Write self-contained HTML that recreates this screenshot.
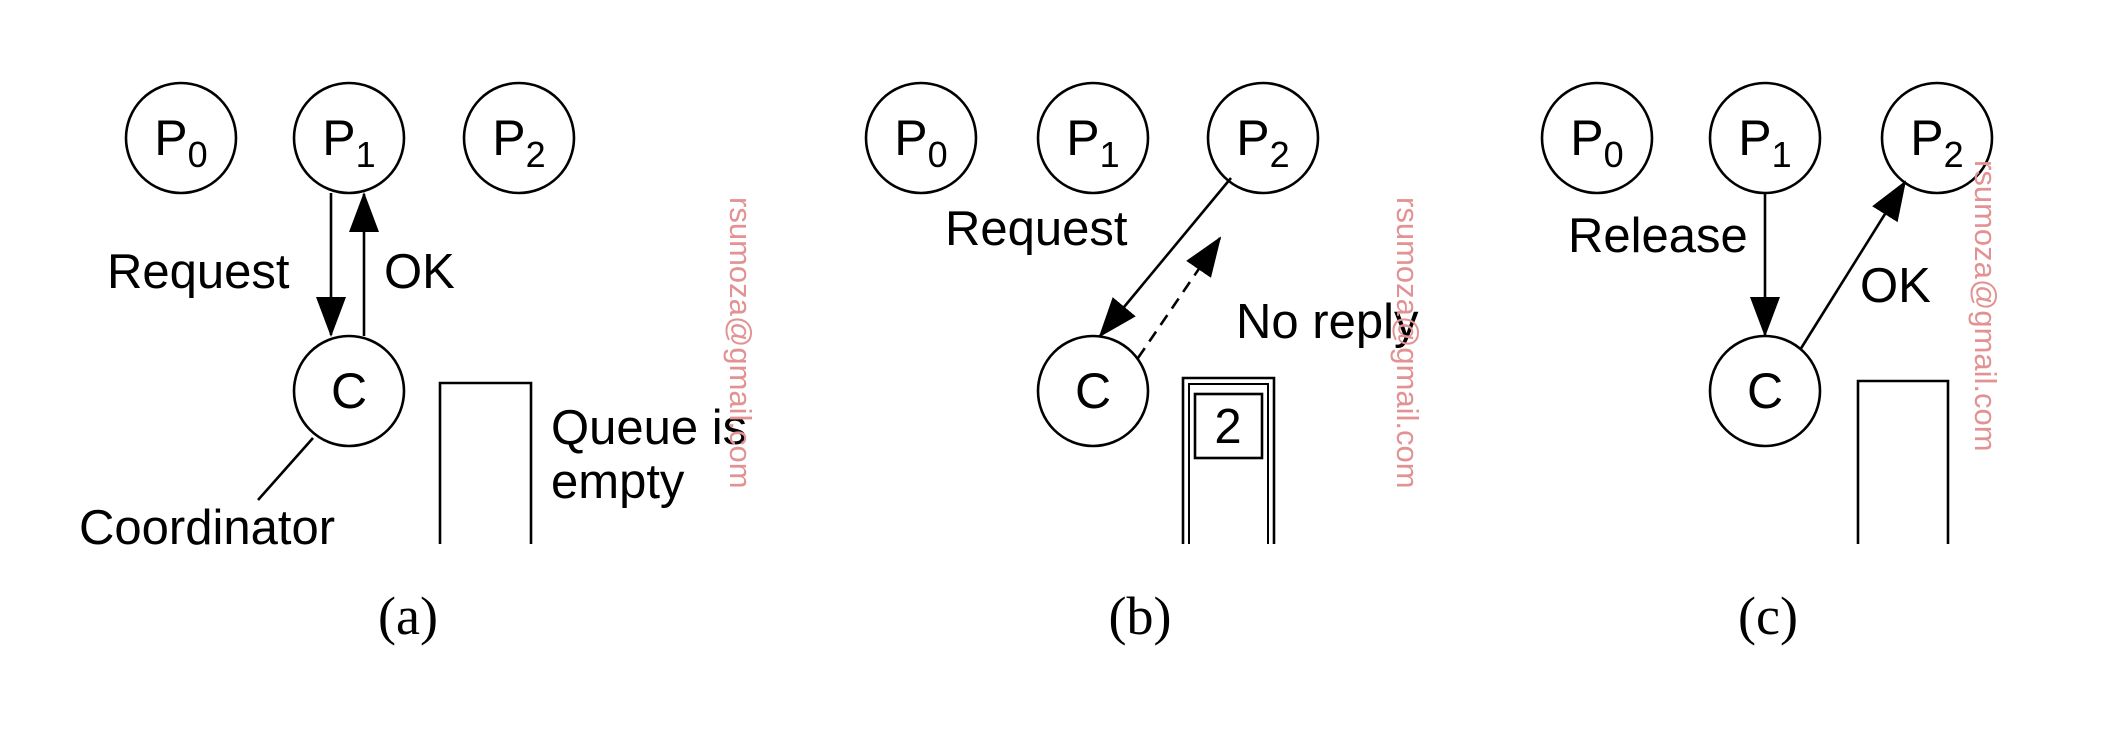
<!DOCTYPE html>
<html><head><meta charset="utf-8"><style>
html,body{margin:0;padding:0;background:#fff;}
svg{display:block;}
.t{font-family:"Liberation Sans",sans-serif;font-size:49px;fill:#000;}
.p{font-family:"Liberation Sans",sans-serif;font-size:50px;fill:#000;}
.lbl{font-family:"Liberation Serif",serif;font-size:54px;fill:#000;}
.wm{font-family:"Liberation Sans",sans-serif;font-size:31px;fill:#e29292;}
circle{fill:#fff;stroke:#000;stroke-width:2.6;}
.ln{stroke:#000;stroke-width:2.6;fill:none;}
</style></head><body>
<svg width="2124" height="734" viewBox="0 0 2124 734">
<defs>
<marker id="ah" viewBox="0 0 40 30" refX="38" refY="15" markerWidth="40" markerHeight="30" markerUnits="userSpaceOnUse" orient="auto">
<path d="M0,0 L40,15 L0,30 z" fill="#000"/></marker>
</defs>

<!-- Panel a -->
<g>
<g><circle cx="181" cy="138" r="55"/><text class="p" x="181" y="155" text-anchor="middle">P<tspan dy="12" font-size="36">0</tspan></text></g>
<g><circle cx="349" cy="138" r="55"/><text class="p" x="349" y="155" text-anchor="middle">P<tspan dy="12" font-size="36">1</tspan></text></g>
<g><circle cx="519" cy="138" r="55"/><text class="p" x="519" y="155" text-anchor="middle">P<tspan dy="12" font-size="36">2</tspan></text></g>
<g><circle cx="349" cy="391" r="55"/><text class="p" x="349" y="408" text-anchor="middle">C</text></g>
<line class="ln" x1="331" y1="193" x2="331" y2="335" marker-end="url(#ah)"/>
<line class="ln" x1="364" y1="336" x2="364" y2="194" marker-end="url(#ah)"/>
<text class="t" x="107" y="288">Request</text>
<text class="t" x="384" y="288">OK</text>
<line class="ln" x1="313" y1="438" x2="258" y2="500"/>
<text class="t" x="79" y="544">Coordinator</text>
<path class="ln" d="M440,544 L440,383 L531,383 L531,544"/>
<text class="t" x="551" y="444">Queue is</text>
<text class="t" x="551" y="498">empty</text>
<text class="lbl" x="408" y="634" text-anchor="middle">(a)</text>
<text class="wm" transform="translate(730,197) rotate(90)">rsumoza@gmail.com</text>
</g>

<!-- Panel b -->
<g>
<g><circle cx="921" cy="138" r="55"/><text class="p" x="921" y="155" text-anchor="middle">P<tspan dy="12" font-size="36">0</tspan></text></g>
<g><circle cx="1093" cy="138" r="55"/><text class="p" x="1093" y="155" text-anchor="middle">P<tspan dy="12" font-size="36">1</tspan></text></g>
<g><circle cx="1263" cy="138" r="55"/><text class="p" x="1263" y="155" text-anchor="middle">P<tspan dy="12" font-size="36">2</tspan></text></g>
<g><circle cx="1093" cy="391" r="55"/><text class="p" x="1093" y="408" text-anchor="middle">C</text></g>
<line class="ln" x1="1231" y1="178" x2="1100" y2="336" marker-end="url(#ah)"/>
<line class="ln" x1="1138" y1="358" x2="1220" y2="238" stroke-dasharray="12,8" marker-end="url(#ah)"/>
<text class="t" x="945" y="245">Request</text>
<text class="t" x="1236" y="338">No reply</text>
<path class="ln" d="M1183,544 L1183,378 L1274,378 L1274,544"/>
<path class="ln" d="M1189,544 L1189,384 L1268,384 L1268,544" style="stroke-width:2"/>
<g><rect x="1195" y="394" width="67" height="64" class="ln"/><text class="t" x="1228" y="443" text-anchor="middle">2</text></g>
<text class="lbl" x="1140" y="634" text-anchor="middle">(b)</text>
<text class="wm" transform="translate(1397,197) rotate(90)">rsumoza@gmail.com</text>
</g>

<!-- Panel c -->
<g>
<g><circle cx="1597" cy="138" r="55"/><text class="p" x="1597" y="155" text-anchor="middle">P<tspan dy="12" font-size="36">0</tspan></text></g>
<g><circle cx="1765" cy="138" r="55"/><text class="p" x="1765" y="155" text-anchor="middle">P<tspan dy="12" font-size="36">1</tspan></text></g>
<g><circle cx="1937" cy="138" r="55"/><text class="p" x="1937" y="155" text-anchor="middle">P<tspan dy="12" font-size="36">2</tspan></text></g>
<g><circle cx="1765" cy="391" r="55"/><text class="p" x="1765" y="408" text-anchor="middle">C</text></g>
<line class="ln" x1="1765" y1="193" x2="1765" y2="335" marker-end="url(#ah)"/>
<line class="ln" x1="1800" y1="350" x2="1905" y2="182" marker-end="url(#ah)"/>
<text class="t" x="1568" y="252">Release</text>
<text class="t" x="1860" y="302">OK</text>
<path class="ln" d="M1858,544 L1858,381 L1948,381 L1948,544"/>
<text class="lbl" x="1768" y="634" text-anchor="middle">(c)</text>
<text class="wm" transform="translate(1975,160) rotate(90)">rsumoza@gmail.com</text>
</g>
</svg>
</body></html>
